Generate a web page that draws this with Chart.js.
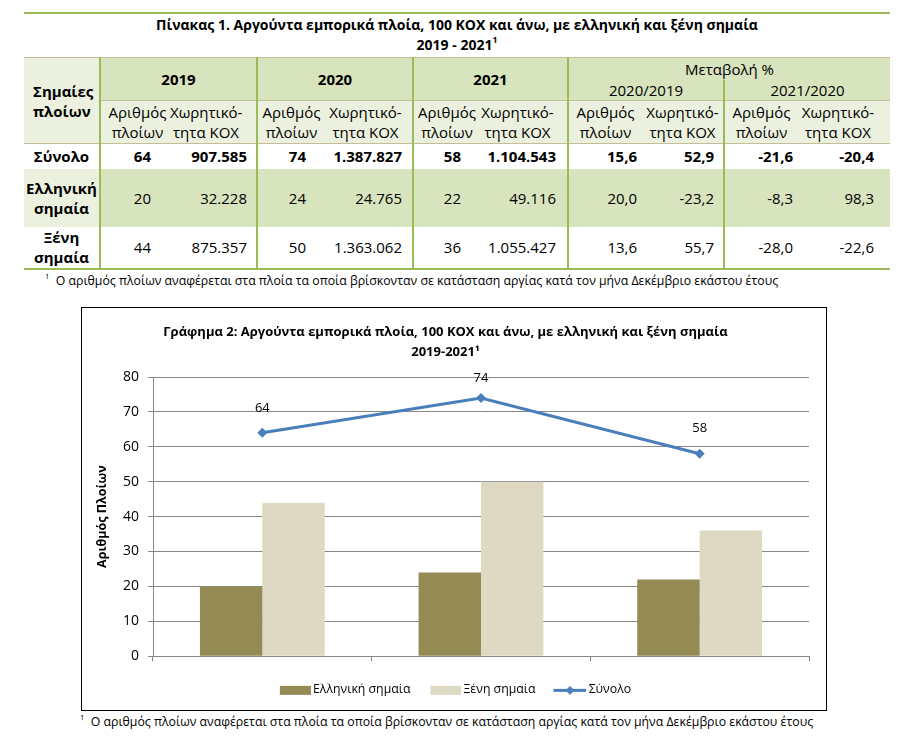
<!DOCTYPE html>
<html lang="el">
<head>
<meta charset="utf-8">
<script src="https://cdn.jsdelivr.net/npm/chart.js@4.4.1/dist/chart.umd.min.js"></script>
<style>
  body { margin: 0; background: #fff; font-family: 'Open Sans', sans-serif; color: #000; }
  #page { position: relative; width: 904px; height: 739px; overflow: hidden; }
  #tbl { position: absolute; left: 24px; top: 12px; width: 866px; border-top: 2px solid #9bbb59; }
  .cap { text-align: center; font-weight: bold; font-size: 14px; line-height: 20px; padding-top: 1px; height: 43px; box-sizing: border-box; }
  sup { font-size: 0.62em; line-height: 0; position: relative; top: -0.15em; }
  table { border-collapse: collapse; table-layout: fixed; width: 866px; font-size: 15px; }
  td { padding: 0; line-height: 20px; white-space: nowrap; }
  .dk { background: #d7e4bd; }
  .lt { background: #ebf1de; }
  .vl { border-left: 2px solid #9bbb59; }
  .ht { border-top: 1px solid #c4bd97; }
  .c0 { text-align: center; font-weight: bold; }
  .hd0 { text-align: left; padding-left: 9px; font-weight: bold; }
  .yr { text-align: center; font-weight: bold; }
  .ctr { text-align: center; }
  .num { text-align: right; }
  .b { font-weight: bold; }
  tr.last td { border-bottom: 2px solid #9bbb59; }
  .note { position: absolute; font-size: 12.3px; line-height: 18px; white-space: nowrap; }
  #box { position: absolute; left: 81px; top: 307px; width: 744px; height: 402px; border: 1px solid #000; }
  #box canvas { display: block; }
</style>
</head>
<body>
<div id="page">
  <div id="tbl">
    <div class="cap">Πίνακας 1. Αργούντα εμπορικά πλοία, 100 ΚΟΧ και άνω, με ελληνική και ξένη σημαία<br>2019 - 2021<sup>1</sup></div>
    <table id="data">
      <colgroup>
        <col style="width:76px"><col style="width:70px"><col style="width:87px"><col style="width:68px"><col style="width:88px">
        <col style="width:67px"><col style="width:88px"><col style="width:74px"><col style="width:82px"><col style="width:74px"><col style="width:92px">
      </colgroup>
      <tr style="height:22px">
        <td class="hd0 lt ht" rowspan="3">Σημαίες<br>πλοίων</td>
        <td class="yr dk ht vl" colspan="2" rowspan="2">2019</td>
        <td class="yr dk ht vl" colspan="2" rowspan="2">2020</td>
        <td class="yr dk ht vl" colspan="2" rowspan="2">2021</td>
        <td class="ctr dk ht vl" colspan="4">Μεταβολή %</td>
      </tr>
      <tr style="height:21px">
        <td class="ctr dk vl" colspan="2">2020/2019</td>
        <td class="ctr dk vl" colspan="2">2021/2020</td>
      </tr>
      <tr id="subhead" style="height:43px"></tr>
    </table>
  </div>
  <div class="note" style="left:45px; top:272px;"><sup>1</sup>&nbsp; Ο αριθμός πλοίων αναφέρεται στα πλοία τα οποία βρίσκονταν σε κατάσταση αργίας κατά τον μήνα Δεκέμβριο εκάστου έτους</div>

  <div id="box"><canvas id="myChart" width="744" height="402"></canvas></div>
  <div class="note" style="left:80px; top:713px;"><sup>1</sup>&nbsp; Ο αριθμός πλοίων αναφέρεται στα πλοία τα οποία βρίσκονταν σε κατάσταση αργίας κατά τον μήνα Δεκέμβριο εκάστου έτους</div>
</div>

<script>
// chart data
const years = ['2019', '2020', '2021'];
const greekShips = [20, 24, 22];
const foreignShips = [44, 50, 36];
const totalShips = [64, 74, 58];
const yTicks = [0, 10, 20, 30, 40, 50, 60, 70, 80];

// table data (rows: total, greek, foreign)
const rowNames = ['Σύνολο', 'Ελληνική<br>σημαία', 'Ξένη<br>σημαία'];
const tonnage2019 = [907585, 32228, 875357];
const tonnage2020 = [1387827, 24765, 1363062];
const tonnage2021 = [1104543, 49116, 1055427];
const shipsChange2020 = [15.6, 20.0, 13.6];
const tonnageChange2020 = [52.9, -23.2, 55.7];
const shipsChange2021 = [-21.6, -8.3, -28.0];
const tonnageChange2021 = [-20.4, 98.3, -22.6];

const fmtInt = v => String(v).replace(/\B(?=(\d{3})+(?!\d))/g, '.');
const fmtDec = v => v.toFixed(1).replace('.', ',');

// --- table ---
const numPad = [19, 9, 19, 10, 19, 11, 5, 9, 5, 16];
const subPadR = [0, 14, 0, 6, 0, 12, 0, 0, 0, 12];
const subPadL = [4, 0, 0, 0, 0, 0, 0, 0, 0, 0];
const groupStart = i => i % 2 === 0;

const sub = document.getElementById('subhead');
for (let i = 0; i < 10; i++) {
    const td = document.createElement('td');
    td.className = 'ctr lt ht' + (groupStart(i) ? ' vl' : '');
    td.style.paddingRight = subPadR[i] + 'px';
    td.style.paddingLeft = subPadL[i] + 'px';
    td.innerHTML = i % 2 === 0 ? 'Αριθμός<br>πλοίων' : 'Χωρητικό-<br>τητα ΚΟΧ';
    sub.appendChild(td);
}

const rowHeights = [25, 58, 42];
const table = document.getElementById('data');
rowNames.forEach((name, r) => {
    const ships = [totalShips, greekShips, foreignShips][r];
    const cells = [
        ships[0], fmtInt(tonnage2019[r]),
        ships[1], fmtInt(tonnage2020[r]),
        ships[2], fmtInt(tonnage2021[r]),
        fmtDec(shipsChange2020[r]), fmtDec(tonnageChange2020[r]),
        fmtDec(shipsChange2021[r]), fmtDec(tonnageChange2021[r]),
    ];
    const tr = document.createElement('tr');
    tr.style.height = rowHeights[r] + 'px';
    if (r === 2) tr.className = 'last';
    const first = document.createElement('td');
    first.className = 'c0' + (r === 1 ? ' lt' : '') + (r === 0 ? ' ht' : '');
    first.innerHTML = name;
    tr.appendChild(first);
    cells.forEach((c, i) => {
        const td = document.createElement('td');
        td.className = 'num' + (groupStart(i) ? ' vl' : '') + (r === 0 ? ' b ht' : '') + (r === 1 ? ' dk' : '');
        td.style.paddingRight = numPad[i] + 'px';
        td.textContent = c;
        tr.appendChild(td);
    });
    table.appendChild(tr);
});

// --- chart ---
const greekColor = '#948a54';
const foreignColor = '#ddd9c3';
const totalColor = '#4a7ebb';
const gridColor = '#868686';
const FONT = "'Open Sans'";
const legendFont = 12.3;
const legendBox = 47;

// legend swatches, drawn right-aligned so they sit close to the text
const swatch = (kind, color) => {
    const w = Math.round(legendBox + legendFont - 4);
    const c = document.createElement('canvas');
    c.width = w;
    c.height = 12;
    const g = c.getContext('2d');
    if (kind === 'bar') {
        g.fillStyle = color;
        g.fillRect(w - 31, 2, 31, 9);
    } else {
        g.strokeStyle = color;
        g.lineWidth = 3;
        g.beginPath();
        g.moveTo(w - 33, 6.5);
        g.lineTo(w, 6.5);
        g.stroke();
        const cx = w - 16.5;
        g.fillStyle = color;
        g.beginPath();
        g.moveTo(cx, 2); g.lineTo(cx + 4.5, 6.5); g.lineTo(cx, 11); g.lineTo(cx - 4.5, 6.5);
        g.closePath();
        g.fill();
    }
    return c;
};

const pointLabels = {
    id: 'pointLabels',
    afterDatasetsDraw(chart) {
        const meta = chart.getDatasetMeta(2);
        const ctx = chart.ctx;
        ctx.save();
        ctx.font = `13px ${FONT}`;
        ctx.fillStyle = '#000';
        ctx.textAlign = 'center';
        ctx.textBaseline = 'middle';
        meta.data.forEach((pt, i) => {
            const y = Math.max(pt.y - 25, chart.chartArea.top + 1);
            ctx.fillText(String(totalShips[i]), pt.x, y);
        });
        ctx.restore();
    }
};

new Chart(document.getElementById('myChart').getContext('2d'), {
    type: 'bar',
    data: {
        labels: years,
        datasets: [
            { label: 'Ελληνική σημαία', data: greekShips, backgroundColor: greekColor, borderWidth: 0, order: 1,
              categoryPercentage: 0.571, barPercentage: 1 },
            { label: 'Ξένη σημαία', data: foreignShips, backgroundColor: foreignColor, borderWidth: 0, order: 1,
              categoryPercentage: 0.571, barPercentage: 1 },
            { type: 'line', label: 'Σύνολο', data: totalShips, borderColor: totalColor, backgroundColor: totalColor,
              borderWidth: 3, pointStyle: 'rectRot', pointRadius: 5, pointBorderWidth: 0,
              pointBackgroundColor: totalColor, tension: 0, order: 0 },
        ],
    },
    options: {
        responsive: false,
        animation: false,
        devicePixelRatio: 1,
        layout: { padding: { left: 0, right: 17, top: 0, bottom: 4 } },
        scales: {
            x: {
                ticks: { display: false },
                grid: { drawOnChartArea: false, color: gridColor, tickLength: 5, offset: true },
                border: { color: gridColor },
                afterFit: scale => { scale.height = 27.5; },
            },
            y: {
                min: yTicks[0],
                max: yTicks[yTicks.length - 1],
                ticks: { stepSize: yTicks[1] - yTicks[0], padding: 9, color: '#000', font: { family: FONT, size: 14 } },
                grid: { color: gridColor, tickLength: 5 },
                border: { color: gridColor },
                title: { display: true, text: 'Αριθμός Πλοίων', color: '#000',
                         font: { family: FONT, size: 12.5, weight: 'bold' }, padding: { top: 13, bottom: 0 } },
                afterFit: scale => { scale.width = 71; },
            },
        },
        plugins: {
            title: {
                display: true,
                text: ['Γράφημα 2: Αργούντα εμπορικά πλοία, 100 ΚΟΧ και άνω, με ελληνική και ξένη σημαία', '2019-2021¹'],
                color: '#000',
                font: { family: FONT, size: 13, weight: 'bold', lineHeight: 1.5 },
                padding: { top: 15, bottom: 15 },
            },
            legend: {
                position: 'bottom',
                labels: {
                    usePointStyle: true,
                    pointStyleWidth: legendBox,
                    padding: 0,
                    color: '#000',
                    font: { family: FONT, size: legendFont },
                    generateLabels: () => [
                        { text: 'Ελληνική σημαία', pointStyle: swatch('bar', greekColor), datasetIndex: 0, lineWidth: 0, fontColor: '#000' },
                        { text: 'Ξένη σημαία', pointStyle: swatch('bar', foreignColor), datasetIndex: 1, lineWidth: 0, fontColor: '#000' },
                        { text: 'Σύνολο', pointStyle: swatch('line', totalColor), datasetIndex: 2, lineWidth: 0, fontColor: '#000' },
                    ],
                },
            },
            tooltip: { enabled: false },
        },
    },
    plugins: [pointLabels],
});
</script>
</body>
</html>
